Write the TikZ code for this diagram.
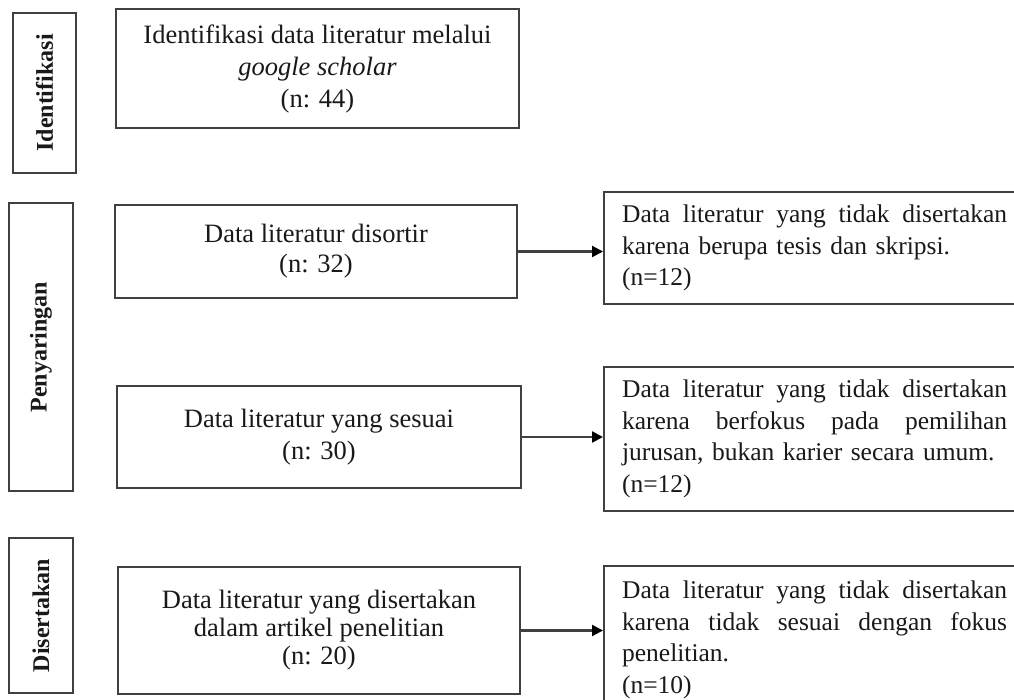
\documentclass[tikz,border=0pt]{standalone}
\usepackage{fontspec}
\setmainfont{Liberation Serif}
\usetikzlibrary{arrows.meta}
\tikzset{
 mainbox/.style={draw=black!75, line width=2.2pt, align=center, inner sep=0pt, text=black!90},
 phasebox/.style={draw=black!75, line width=2.2pt, rotate=90, inner sep=0pt, text=black!90, font=\fontsize{24}{28}\selectfont\bfseries},
 notebox/.style={draw=black!75, line width=2.2pt, anchor=west, align=left, text width=385pt, inner xsep=18pt, inner ysep=0pt, text=black!90, font=\fontsize{25.5}{31.5}\selectfont},
 flow/.style={draw=black!75, line width=2.2pt, -{Triangle[length=11pt,width=11pt,color=black]}},
}
\newcommand{\jline}[1]{\leavevmode\hbox to 385pt{#1}}
\begin{document}
\begin{tikzpicture}[x=1pt,y=-1pt]
\useasboundingbox (0,0) rectangle (1014,700);
\clip (0,0) rectangle (1014,700);
\fill[white] (0,0) rectangle (1014,700);

% phase labels
\node[phasebox, minimum width=160pt, minimum height=63pt] (L1) at (44.5,93) {Identifikasi};
\node[phasebox, minimum width=288pt, minimum height=64pt] (L2) at (41,347) {Penyaringan};
\node[phasebox, minimum width=155pt, minimum height=64pt] (L3) at (41,615.5) {Disertakan};

% main boxes
\node[mainbox, minimum width=403pt, minimum height=119pt, font=\fontsize{26.5}{32}\selectfont] (B1) at (317.5,68.5)
  {Identifikasi data literatur melalui\\ \textit{google scholar}\\ (n: 44)};
\node[mainbox, minimum width=402pt, minimum height=93pt, font=\fontsize{26.5}{30}\selectfont] (B2) at (316,251.5)
  {Data literatur disortir\\ (n: 32)};
\node[mainbox, minimum width=404pt, minimum height=102pt, font=\fontsize{26.5}{32}\selectfont] (B3) at (319,437)
  {Data literatur yang sesuai\\ (n: 30)};
\node[mainbox, minimum width=402pt, minimum height=127pt, font=\fontsize{26.5}{28}\selectfont] (B4) at (319,630.5)
  {Data literatur yang disertakan\\ dalam artikel penelitian\\ (n: 20)};

% excluded boxes
\node[notebox, minimum height=112pt] (R1) at (603,248)
  {\jline{Data\hfill literatur\hfill yang\hfill tidak\hfill disertakan}\\ karena berupa tesis dan skripsi.\\ (n=12)};
\node[notebox, minimum height=144pt] (R2) at (603,439)
  {\jline{Data\hfill literatur\hfill yang\hfill tidak\hfill disertakan}\\ \jline{karena\hfill berfokus\hfill pada\hfill pemilihan}\\ jurusan, bukan karier secara umum.\\ (n=12)};
\node[notebox, minimum height=148pt] (R3) at (603,640)
  {\jline{Data\hfill literatur\hfill yang\hfill tidak\hfill disertakan}\\ \jline{karena\hfill tidak\hfill sesuai\hfill dengan\hfill fokus}\\ penelitian.\\ (n=10)};

% connectors
\draw[flow] (B2.east) -- (B2.east -| R1.west);
\draw[flow] (B3.east) -- (B3.east -| R2.west);
\draw[flow] (B4.east) -- (B4.east -| R3.west);
\end{tikzpicture}
\end{document}
